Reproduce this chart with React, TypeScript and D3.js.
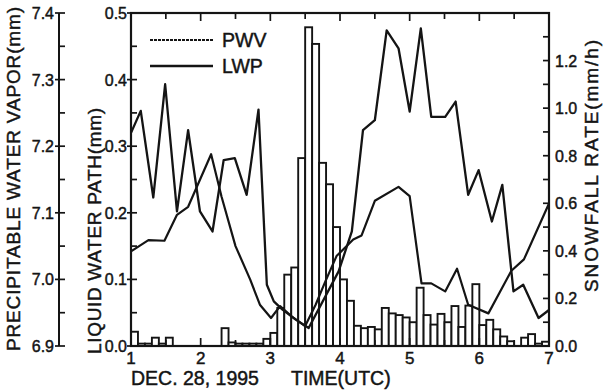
import React from "react";
import * as d3 from "d3";

// Snowfall rate (mm/h), 6-minute bins starting at 1.0 UTC
const snowStart = 1.0;
const snowBin = 0.1;
const snowRate = [
  0.06, 0.01, 0.01, 0.035, 0.01, 0.035, 0, 0, 0, 0,
  0, 0, 0, 0.075, 0.015, 0.01, 0.01, 0.01, 0.01, 0.03,
  0.055, 0.16, 0.30, 0.33, 0.79, 1.34, 1.27, 0.77, 0.68, 0.50,
  0.28, 0.19, 0.085, 0.075, 0.08, 0.07, 0.16, 0.137, 0.13, 0.12,
  0.10, 0.245, 0.13, 0.09, 0.135, 0.10, 0.168, 0.08, 0.17, 0.26,
  0.088, 0.11, 0.07, 0.04, 0.02, 0, 0.035, 0.05, 0.01, 0.018,
];

// Precipitable water vapor (mm)
const pwvTime = [1.0, 1.25, 1.48, 1.66, 1.82, 2.15, 2.3, 2.5, 2.71, 2.85, 3.01, 3.14, 3.3, 3.5, 3.65, 3.79, 3.95, 4.19, 4.31, 4.5, 4.84, 5.0, 5.17, 5.31, 5.51, 5.68, 5.84, 6.13, 6.46, 6.64, 7.0];
const pwvValue = [7.042, 7.059, 7.058, 7.097, 7.109, 7.188, 7.124, 7.05, 7.0, 6.962, 6.942, 6.96, 6.945, 6.93, 6.962, 6.997, 7.035, 7.06, 7.066, 7.118, 7.139, 7.125, 6.994, 6.994, 6.982, 7.016, 6.962, 6.949, 7.013, 7.03, 7.114];

// Liquid water path (mm)
const lwpTime = [1.0, 1.14, 1.32, 1.49, 1.66, 1.82, 1.99, 2.17, 2.33, 2.49, 2.66, 2.83, 2.95, 3.05, 3.17, 3.36, 3.55, 3.98, 4.17, 4.33, 4.5, 4.67, 4.84, 5.0, 5.16, 5.31, 5.51, 5.66, 5.84, 5.99, 6.18, 6.33, 6.49, 6.63, 6.85, 7.0];
const lwpValue = [0.32, 0.353, 0.223, 0.393, 0.202, 0.324, 0.202, 0.172, 0.279, 0.282, 0.227, 0.355, 0.092, 0.067, 0.055, 0.04, 0.027, 0.112, 0.172, 0.324, 0.339, 0.474, 0.447, 0.352, 0.477, 0.344, 0.344, 0.367, 0.227, 0.264, 0.187, 0.242, 0.082, 0.092, 0.042, 0.054];

const xTicks = [1, 2, 3, 4, 5, 6, 7];
const pwvTicks = [6.9, 7.0, 7.1, 7.2, 7.3, 7.4];
const lwpTicks = [0.0, 0.1, 0.2, 0.3, 0.4, 0.5];
const snowTicks = [0.0, 0.2, 0.4, 0.6, 0.8, 1.0, 1.2];

const FONT = "'Liberation Sans', Arial, Helvetica, sans-serif";
const INK = "#141414";

export default function App() {
  const L = 131, R = 549, T = 13, B = 346;
  const x = d3.scaleLinear().domain([1, 7]).range([L, R]);
  const yL = d3.scaleLinear().domain([0, 0.5]).range([B, T]);
  const yP = d3.scaleLinear().domain([6.9, 7.4]).range([B, T]);
  const yS = d3.scaleLinear().domain([0, 1.4]).range([B, T]);
  const pwvAxisX = 59;

  const line = d3.line<[number, number]>().x((d) => d[0]).y((d) => d[1]);
  const pwvPath = line(pwvTime.map((t, i) => [x(t), yP(pwvValue[i])]));
  const lwpPath = line(lwpTime.map((t, i) => [x(t), yL(lwpValue[i])]));

  const xMinor = d3.range(1, 7.01, 0.5);
  const lwpMinor = d3.range(0, 0.501, 0.05);
  const pwvMinor = d3.range(6.9, 7.401, 0.05);
  const snowMinor = d3.range(0, 1.401, 0.1);

  const txt = { fill: INK, stroke: INK, strokeWidth: 0.45 } as const;

  return (
    <svg width={603} height={392} style={{ position: "absolute", left: 0, top: 0, background: "#fff" }} fontFamily={FONT}>
      <rect x={0} y={0} width={603} height={392} fill="#fff" />
      {/* bars */}
      <g>
        {snowRate.map((v, i) => {
          const x0 = x(snowStart + i * snowBin);
          const x1 = x(snowStart + (i + 1) * snowBin);
          const h = B - yS(v);
          if (v <= 0) return null;
          return (
            <rect key={i} x={x0} y={yS(v)} width={x1 - x0} height={h} fill="#fff" stroke={INK} strokeWidth={1.9} />
          );
        })}
      </g>
      {/* lines */}
      <path d={pwvPath || ""} fill="none" stroke={INK} strokeWidth={2.2} strokeLinejoin="round" />
      <path d={lwpPath || ""} fill="none" stroke={INK} strokeWidth={2.3} strokeLinejoin="round" />

      {/* frame */}
      <rect x={L} y={T} width={R - L} height={B - T} fill="none" stroke={INK} strokeWidth={2.2} />

      {/* x ticks (bottom and top) */}
      {xMinor.map((t, i) => {
        const major = Math.abs(t - Math.round(t)) < 1e-6;
        const len = major ? 8 : 6;
        return (
          <g key={i}>
            <line x1={x(t)} x2={x(t)} y1={B} y2={B - len} stroke={INK} strokeWidth={1.7} />
            <line x1={x(t)} x2={x(t)} y1={T} y2={T + len} stroke={INK} strokeWidth={1.7} />
          </g>
        );
      })}
      {xTicks.map((t) => (
        <text key={t} x={x(t)} y={364} fontSize={17} textAnchor="middle" {...txt}>{t}</text>
      ))}
      <text x={131} y={385} fontSize={19.5} {...txt}>DEC. 28, 1995</text>
      <text x={291} y={385} fontSize={19.5} {...txt}>TIME(UTC)</text>

      {/* LWP axis ticks */}
      {lwpMinor.map((v, i) => (
        <line key={i} x1={L} x2={L + 6} y1={yL(v)} y2={yL(v)} stroke={INK} strokeWidth={1.7} />
      ))}
      {lwpTicks.map((v) => (
        <g key={v}>
          <line x1={L - 4} x2={L} y1={yL(v)} y2={yL(v)} stroke={INK} strokeWidth={1.7} />
          <text x={127} y={yL(v) + 6} fontSize={16} textAnchor="end" {...txt}>{v.toFixed(1)}</text>
        </g>
      ))}
      <text transform={`translate(101,231) rotate(-90)`} fontSize={19} textAnchor="middle" textLength={246} lengthAdjust="spacing" {...txt}>LIQUID WATER PATH(mm)</text>

      {/* PWV axis */}
      <line x1={pwvAxisX} x2={pwvAxisX} y1={T} y2={B} stroke={INK} strokeWidth={2} />
      {pwvMinor.map((v, i) => (
        <line key={i} x1={pwvAxisX} x2={pwvAxisX + 6} y1={yP(v)} y2={yP(v)} stroke={INK} strokeWidth={1.7} />
      ))}
      {pwvTicks.map((v) => (
        <g key={v}>
          <line x1={pwvAxisX - 4} x2={pwvAxisX} y1={yP(v)} y2={yP(v)} stroke={INK} strokeWidth={1.7} />
          <text x={54} y={yP(v) + 6} fontSize={16} textAnchor="end" {...txt}>{v.toFixed(1)}</text>
        </g>
      ))}
      <text transform={`translate(20,179) rotate(-90)`} fontSize={19} textAnchor="middle" textLength={344} lengthAdjust="spacing" {...txt}>PRECIPITABLE WATER VAPOR(mm)</text>

      {/* Snowfall axis */}
      {snowMinor.map((v, i) => (
        <line key={i} x1={R - 6} x2={R} y1={yS(v)} y2={yS(v)} stroke={INK} strokeWidth={1.7} />
      ))}
      {snowTicks.map((v) => (
        <text key={v} x={555} y={yS(v) + 6} fontSize={16} textAnchor="start" {...txt}>{v.toFixed(1)}</text>
      ))}
      <text transform={`translate(598,166) rotate(-90)`} fontSize={19} textAnchor="middle" textLength={252} lengthAdjust="spacing" {...txt}>SNOWFALL RATE(mm/h)</text>

      {/* legend */}
      <line x1={150} x2={213} y1={40} y2={40} stroke={INK} strokeWidth={2.2} strokeDasharray="3,1" />
      <text x={222} y={47} fontSize={19.5} {...txt}>PWV</text>
      <line x1={150} x2={213} y1={66} y2={66} stroke={INK} strokeWidth={2.3} />
      <text x={222} y={73} fontSize={19.5} {...txt}>LWP</text>
    </svg>
  );
}
